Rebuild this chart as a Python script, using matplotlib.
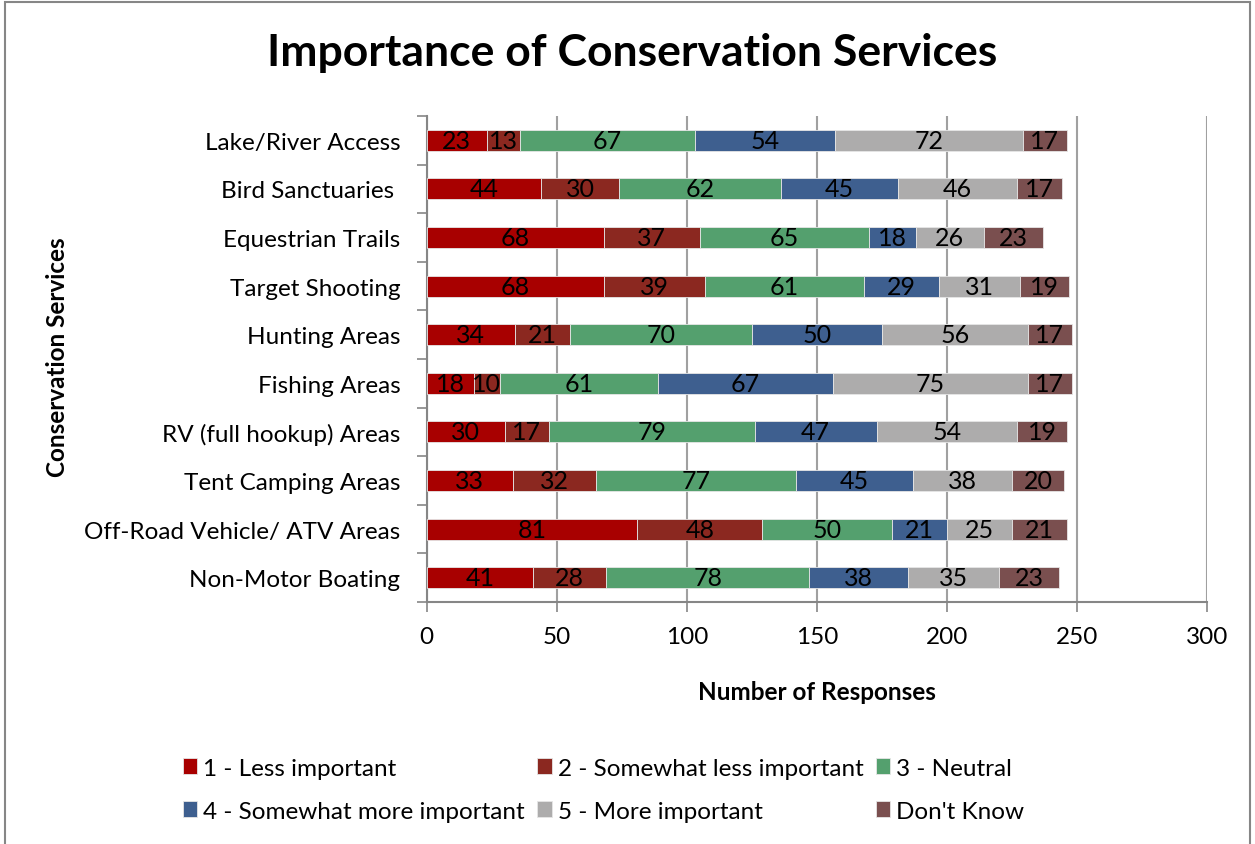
import matplotlib.pyplot as plt
import numpy as np
from matplotlib.patches import Rectangle

plt.rcParams['font.family'] = ['Lato', 'DejaVu Sans']

# categories listed bottom to top
services = ['Non-Motor Boating', 'Off-Road Vehicle/ ATV Areas', 'Tent Camping Areas',
            'RV (full hookup) Areas', 'Fishing Areas', 'Hunting Areas',
            'Target Shooting', 'Equestrian Trails', 'Bird Sanctuaries ', 'Lake/River Access']

less_imp = [41, 81, 33, 30, 18, 34, 68, 68, 44, 23]
some_less = [28, 48, 32, 17, 10, 21, 39, 37, 30, 13]
neutral = [78, 50, 77, 79, 61, 70, 61, 65, 62, 67]
some_more = [38, 21, 45, 47, 67, 50, 29, 18, 45, 54]
more_imp = [35, 25, 38, 54, 75, 56, 31, 26, 46, 72]
dont_know = [23, 21, 20, 19, 17, 17, 19, 23, 17, 17]

series = [less_imp, some_less, neutral, some_more, more_imp, dont_know]
names = ['1 - Less important', '2 - Somewhat less important', '3 - Neutral',
         '4 - Somewhat more important', '5 - More important', "Don't Know"]
colors = ['#A80000', '#8B2820', '#54A06E', '#3E5F8F', '#ADACAC', '#7A4F4F']

fig = plt.figure(figsize=(12.55, 8.45), dpi=100)
ax = fig.add_axes([0.340, 0.2864, 0.622, 0.5751])

y = np.arange(len(services))
left = np.zeros(len(services))
handles = []
for vals, name, col in zip(series, names, colors):
    bars = ax.barh(y, vals, left=left, height=0.43, color=col, label=name,
                   edgecolor='#e6e6e6', linewidth=0.6, zorder=3)
    handles.append(bars)
    for yi, l, v in zip(y, left, vals):
        ax.text(l + v / 2, yi, str(v), ha='center', va='center',
                fontsize=18, color='black', zorder=4)
    left += np.array(vals)

ax.set_xlim(0, 300)
ax.set_ylim(-0.5, 9.5)
ax.set_xticks(np.arange(0, 301, 50))
ax.set_yticks(y)
ax.set_yticklabels(services)
ax.set_yticks(np.arange(-0.5, 10, 1), minor=True)
ax.tick_params(axis='y', which='major', length=0, labelsize=17.5, pad=19)
ax.tick_params(axis='y', which='minor', length=7, color='#868686', width=1.2)
ax.tick_params(axis='x', which='major', length=7, color='#868686', width=1.2,
               labelsize=17.5, pad=10)
ax.grid(axis='x', color='#a0a0a0', linewidth=1.5, zorder=0)
for s in ['top', 'right']:
    ax.spines[s].set_visible(False)
for s in ['left', 'bottom']:
    ax.spines[s].set_color('#868686')
    ax.spines[s].set_linewidth(1.5)

ax.set_xlabel('Number of Responses', fontsize=17.5, fontweight='bold', labelpad=24)
fig.text(0.046, 0.577, 'Conservation Services', rotation=90, ha='center', va='center',
         fontsize=17.5, fontweight='bold')
fig.text(0.504, 0.937, 'Importance of Conservation Services', ha='center', va='center',
         fontsize=32, fontweight='bold')

order = [0, 3, 1, 4, 2, 5]
fig.legend([handles[i] for i in order], [names[i] for i in order], ncol=3,
           loc='upper left', bbox_to_anchor=(0.128, 0.128), frameon=False,
           fontsize=17.5, handlelength=0.6, handleheight=0.6, handletextpad=0.25,
           columnspacing=0.5, labelspacing=0.9)

fig.patches.append(Rectangle((0.004, -0.01), 0.992, 1.006, transform=fig.transFigure,
                             fill=False, edgecolor='#868686', linewidth=1.5))

fig.savefig('out.png', dpi=100)
